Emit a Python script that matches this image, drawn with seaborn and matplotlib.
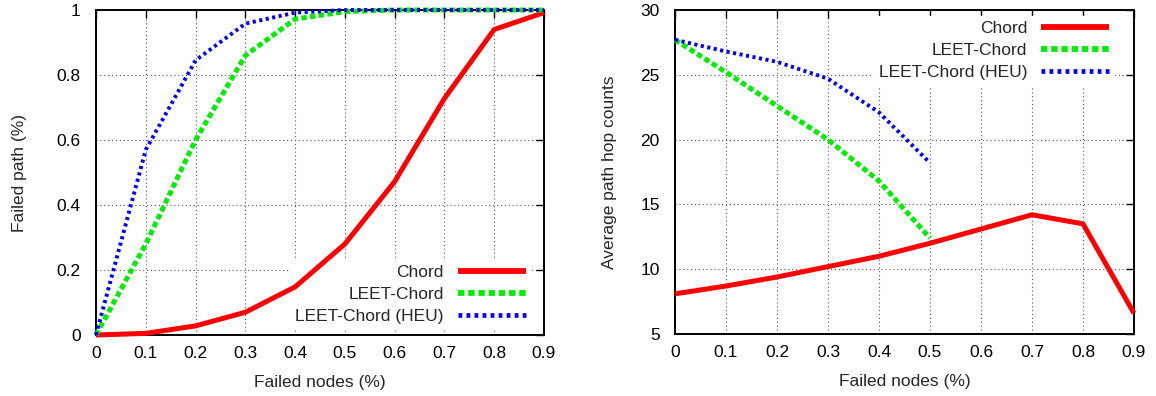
import numpy as np
import pandas as pd
import matplotlib
matplotlib.use("Agg")
import matplotlib.pyplot as plt
import seaborn as sns

failed_nodes = [0, 0.1, 0.2, 0.3, 0.4, 0.5, 0.6, 0.7, 0.8, 0.9]

# left panel: failed path ratio
path_chord = [0.0, 0.005, 0.028, 0.07, 0.148, 0.28, 0.472, 0.728, 0.94, 0.992]
path_leet = [0.0, 0.28, 0.60, 0.86, 0.972, 0.995, 1.0, 1.0, 1.0, 1.0]
path_heu = [0.0, 0.57, 0.845, 0.958, 0.992, 1.0, 1.0, 1.0, 1.0, 1.0]

# right panel: average path hop counts (LEET series stop at 0.5)
hops_chord = [8.1, 8.7, 9.4, 10.2, 11.0, 12.0, 13.1, 14.2, 13.5, 6.6]
hops_leet = [27.7, 25.2, 22.6, 20.0, 16.8, 12.4]
hops_heu = [27.7, 26.8, 26.0, 24.7, 22.1, 18.2]

labels = ["Chord", "LEET-Chord", "LEET-Chord (HEU)"]
styles = {
    "Chord": dict(color="#ff0000", lw=3.6, dashes=(None, None)),
    "LEET-Chord": dict(color="#00ee00", lw=3.6, dashes=(1.1, 0.65)),
    "LEET-Chord (HEU)": dict(color="#0000ff", lw=2.8, dashes=(0.8, 0.9)),
}

sns.set_theme(style="white")
plt.rcParams["font.family"] = ["Liberation Sans", "DejaVu Sans"]
plt.rcParams["font.size"] = 12.5

fig = plt.figure(figsize=(11.56, 3.96), dpi=100)
ax1 = fig.add_axes([96 / 1156, 61 / 396, 448 / 1156, 325 / 396])
ax2 = fig.add_axes([675 / 1156, 62 / 396, 459 / 1156, 324 / 396])


def draw(ax, series):
    for name, y in zip(labels, series):
        st = styles[name]
        x = failed_nodes[:len(y)]
        sns.lineplot(x=x, y=y, ax=ax, color=st["color"], lw=st["lw"], label=name,
                     clip_on=False, zorder=5)
        line = ax.get_lines()[-1]
        if st["dashes"][0] is not None:
            line.set_dashes(st["dashes"])
            line.set_dash_capstyle("butt")
        else:
            line.set_solid_capstyle("butt")


draw(ax1, [path_chord, path_leet, path_heu])
draw(ax2, [hops_chord, hops_leet, hops_heu])

for ax in (ax1, ax2):
    ax.set_xlim(0, 0.9)
    ax.set_xticks(failed_nodes)
    ax.set_xticklabels([f"{v:g}" for v in failed_nodes])
    ax.set_xlabel("Failed nodes (%)", fontsize=12.5, labelpad=10)
    ax.grid(True, color="#555555", lw=0.8, linestyle=(0, (1, 2.5)), zorder=0)
    ax.set_axisbelow(True)
    ax.tick_params(direction="in", length=6, width=1, top=True, right=True,
                   labelsize=12.5, colors="black")
    ax.tick_params(axis="x", pad=8)
    ax.tick_params(axis="y", pad=11)
    for sp in ax.spines.values():
        sp.set_color("black")
        sp.set_linewidth(1.4)

ax1.set_ylim(0, 1)
ax1.set_yticks([0, 0.2, 0.4, 0.6, 0.8, 1])
ax1.set_yticklabels(["0", "0.2", "0.4", "0.6", "0.8", "1"])
ax1.set_ylabel("Failed path (%)", fontsize=12.5, labelpad=21)

ax2.set_ylim(5, 30)
ax2.set_yticks([5, 10, 15, 20, 25, 30])
ax2.set_ylabel("Average path hop counts", fontsize=12.5, labelpad=17)

leg_kw = dict(markerfirst=False, frameon=True, fancybox=False, framealpha=1,
              edgecolor="white", facecolor="white", fontsize=12.5,
              handlelength=3.9, handletextpad=0.8, labelspacing=0.38,
              borderpad=0.3, borderaxespad=0.35)
l1 = ax1.legend(loc="lower right", bbox_to_anchor=(0.984, 0.0), **leg_kw)
l2 = ax2.legend(loc="upper right", bbox_to_anchor=(0.97, 1.0), **leg_kw)
for leg in (l1, l2):
    leg.set_zorder(3)
    for h, name in zip(leg.get_lines(), labels):
        st = styles[name]
        h.set_linewidth(st["lw"] + 0.6)
        if st["dashes"][0] is not None:
            h.set_dashes(st["dashes"])

fig.savefig("out.png", dpi=100)
